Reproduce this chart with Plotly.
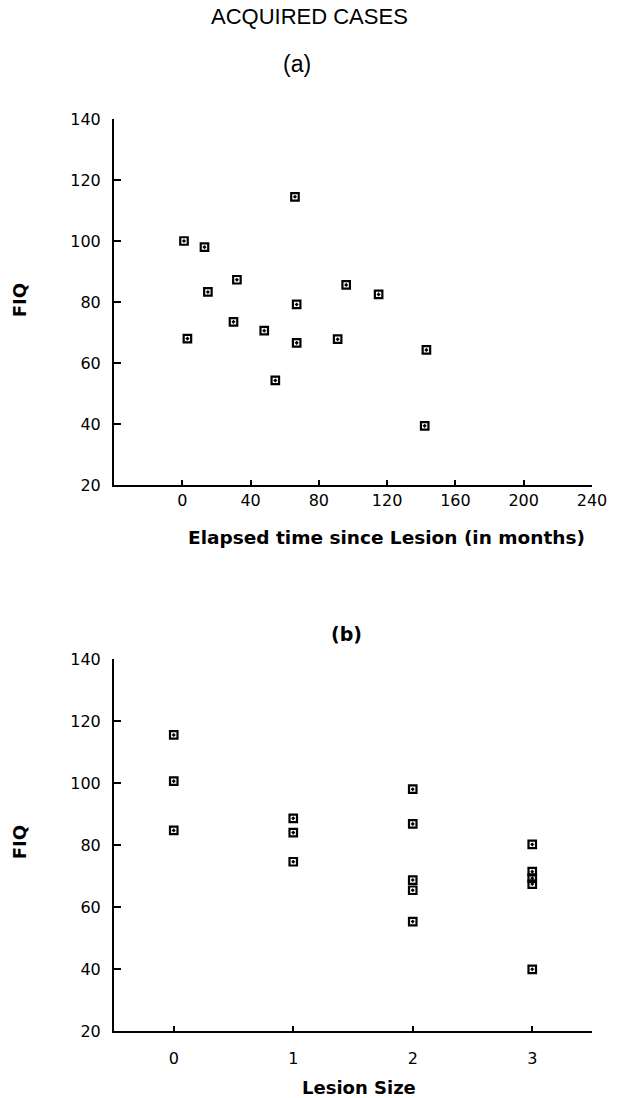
import plotly.graph_objects as go

# Panel (a): elapsed time since lesion (months) vs FIQ
months = [1, 13, 66, 32, 96, 15, 115, 67, 30, 48, 3, 67, 91, 143, 54.5, 142]
fiq_a = [100, 98, 114.5, 87.3, 85.6, 83.3, 82.5, 79.2, 73.5, 70.6, 68, 66.6, 67.8, 64.3, 54.3, 39.4]

# Panel (b): lesion size vs FIQ
lesion_size = [0, 0, 0, 1, 1, 1, 2, 2, 2, 2, 2, 3, 3, 3, 3, 3]
fiq_b = [115.5, 100.6, 84.7, 88.6, 84.0, 74.6, 98.0, 86.8, 68.7, 65.4, 55.3, 80.2, 71.4, 69.3, 67.4, 39.9]

x_ticks_a = [0, 40, 80, 120, 160, 200, 240]
x_ticks_b = [0, 1, 2, 3]
y_ticks = [20, 40, 60, 80, 100, 120, 140]

W, H = 619, 1098
L, R, T, B = 114, 16, 119, 67
PW = W - L - R
PH = H - T - B


def px(xp):
    return (xp - L) / PW


def py(yp):
    return (H - B - yp) / PH


marker = dict(symbol="square-open-dot", size=7.5, color="black", line=dict(width=2.2, color="black"))

fig = go.Figure()
fig.add_trace(go.Scatter(x=months, y=fiq_a, mode="markers", marker=marker, xaxis="x", yaxis="y", showlegend=False))
fig.add_trace(go.Scatter(x=lesion_size, y=fiq_b, mode="markers", marker=marker, xaxis="x2", yaxis="y2", showlegend=False))

tickfont = dict(family="DejaVu Sans", size=16, color="black")
axis_common = dict(showgrid=False, zeroline=False, showline=True, linecolor="black",
                   ticks="inside", tickcolor="black", tickfont=tickfont, mirror=False)

fig.update_layout(
    width=W, height=H,
    margin=dict(l=L, r=R, t=T, b=B),
    paper_bgcolor="white", plot_bgcolor="white",
    xaxis=dict(domain=[0, 1], anchor="y", range=[-40, 240], tickvals=x_ticks_a,
               linewidth=2, ticklen=5, tickwidth=2, ticklabelstandoff=0, **axis_common),
    yaxis=dict(domain=[py(485), 1], anchor="x", range=[20, 140], tickvals=y_ticks,
               linewidth=2, ticklen=7, tickwidth=2, ticklabelstandoff=8, **axis_common),
    xaxis2=dict(domain=[0, 1], anchor="y2", range=[-0.5, 3.5], tickvals=x_ticks_b,
                linewidth=2, ticklen=5, tickwidth=2, ticklabelstandoff=12, **axis_common),
    yaxis2=dict(domain=[0, py(659)], anchor="x2", range=[20, 140], tickvals=y_ticks,
                linewidth=2, ticklen=7, tickwidth=2, ticklabelstandoff=8, **axis_common),
)

bold = dict(family="DejaVu Sans", size=18, color="black", weight="bold")
annots = [
    dict(text="ACQUIRED CASES", x=px(314), y=py(17), font=dict(family="Liberation Sans", size=22, color="black")),
    dict(text="(a)", x=px(301), y=py(64), font=dict(family="Liberation Sans", size=23, color="black")),
    dict(text="(b)", x=px(352), y=py(634), font=dict(family="DejaVu Sans", size=19, color="black", weight="bold")),
    dict(text="Elapsed time since Lesion (in months)", x=px(393), y=py(537), font=dict(bold, size=18.5)),
    dict(text="Lesion Size", x=px(365), y=py(1087), font=bold),
    dict(text="FIQ", x=px(17), y=py(300), textangle=-90, font=bold),
    dict(text="FIQ", x=px(17), y=py(842), textangle=-90, font=bold),
]
for a in annots:
    fig.add_annotation(xref="paper", yref="paper", showarrow=False, xanchor="center", yanchor="middle", **a)

fig.write_html("out.html", config={"displayModeBar": False},
               post_script="document.body.style.margin='0';")
